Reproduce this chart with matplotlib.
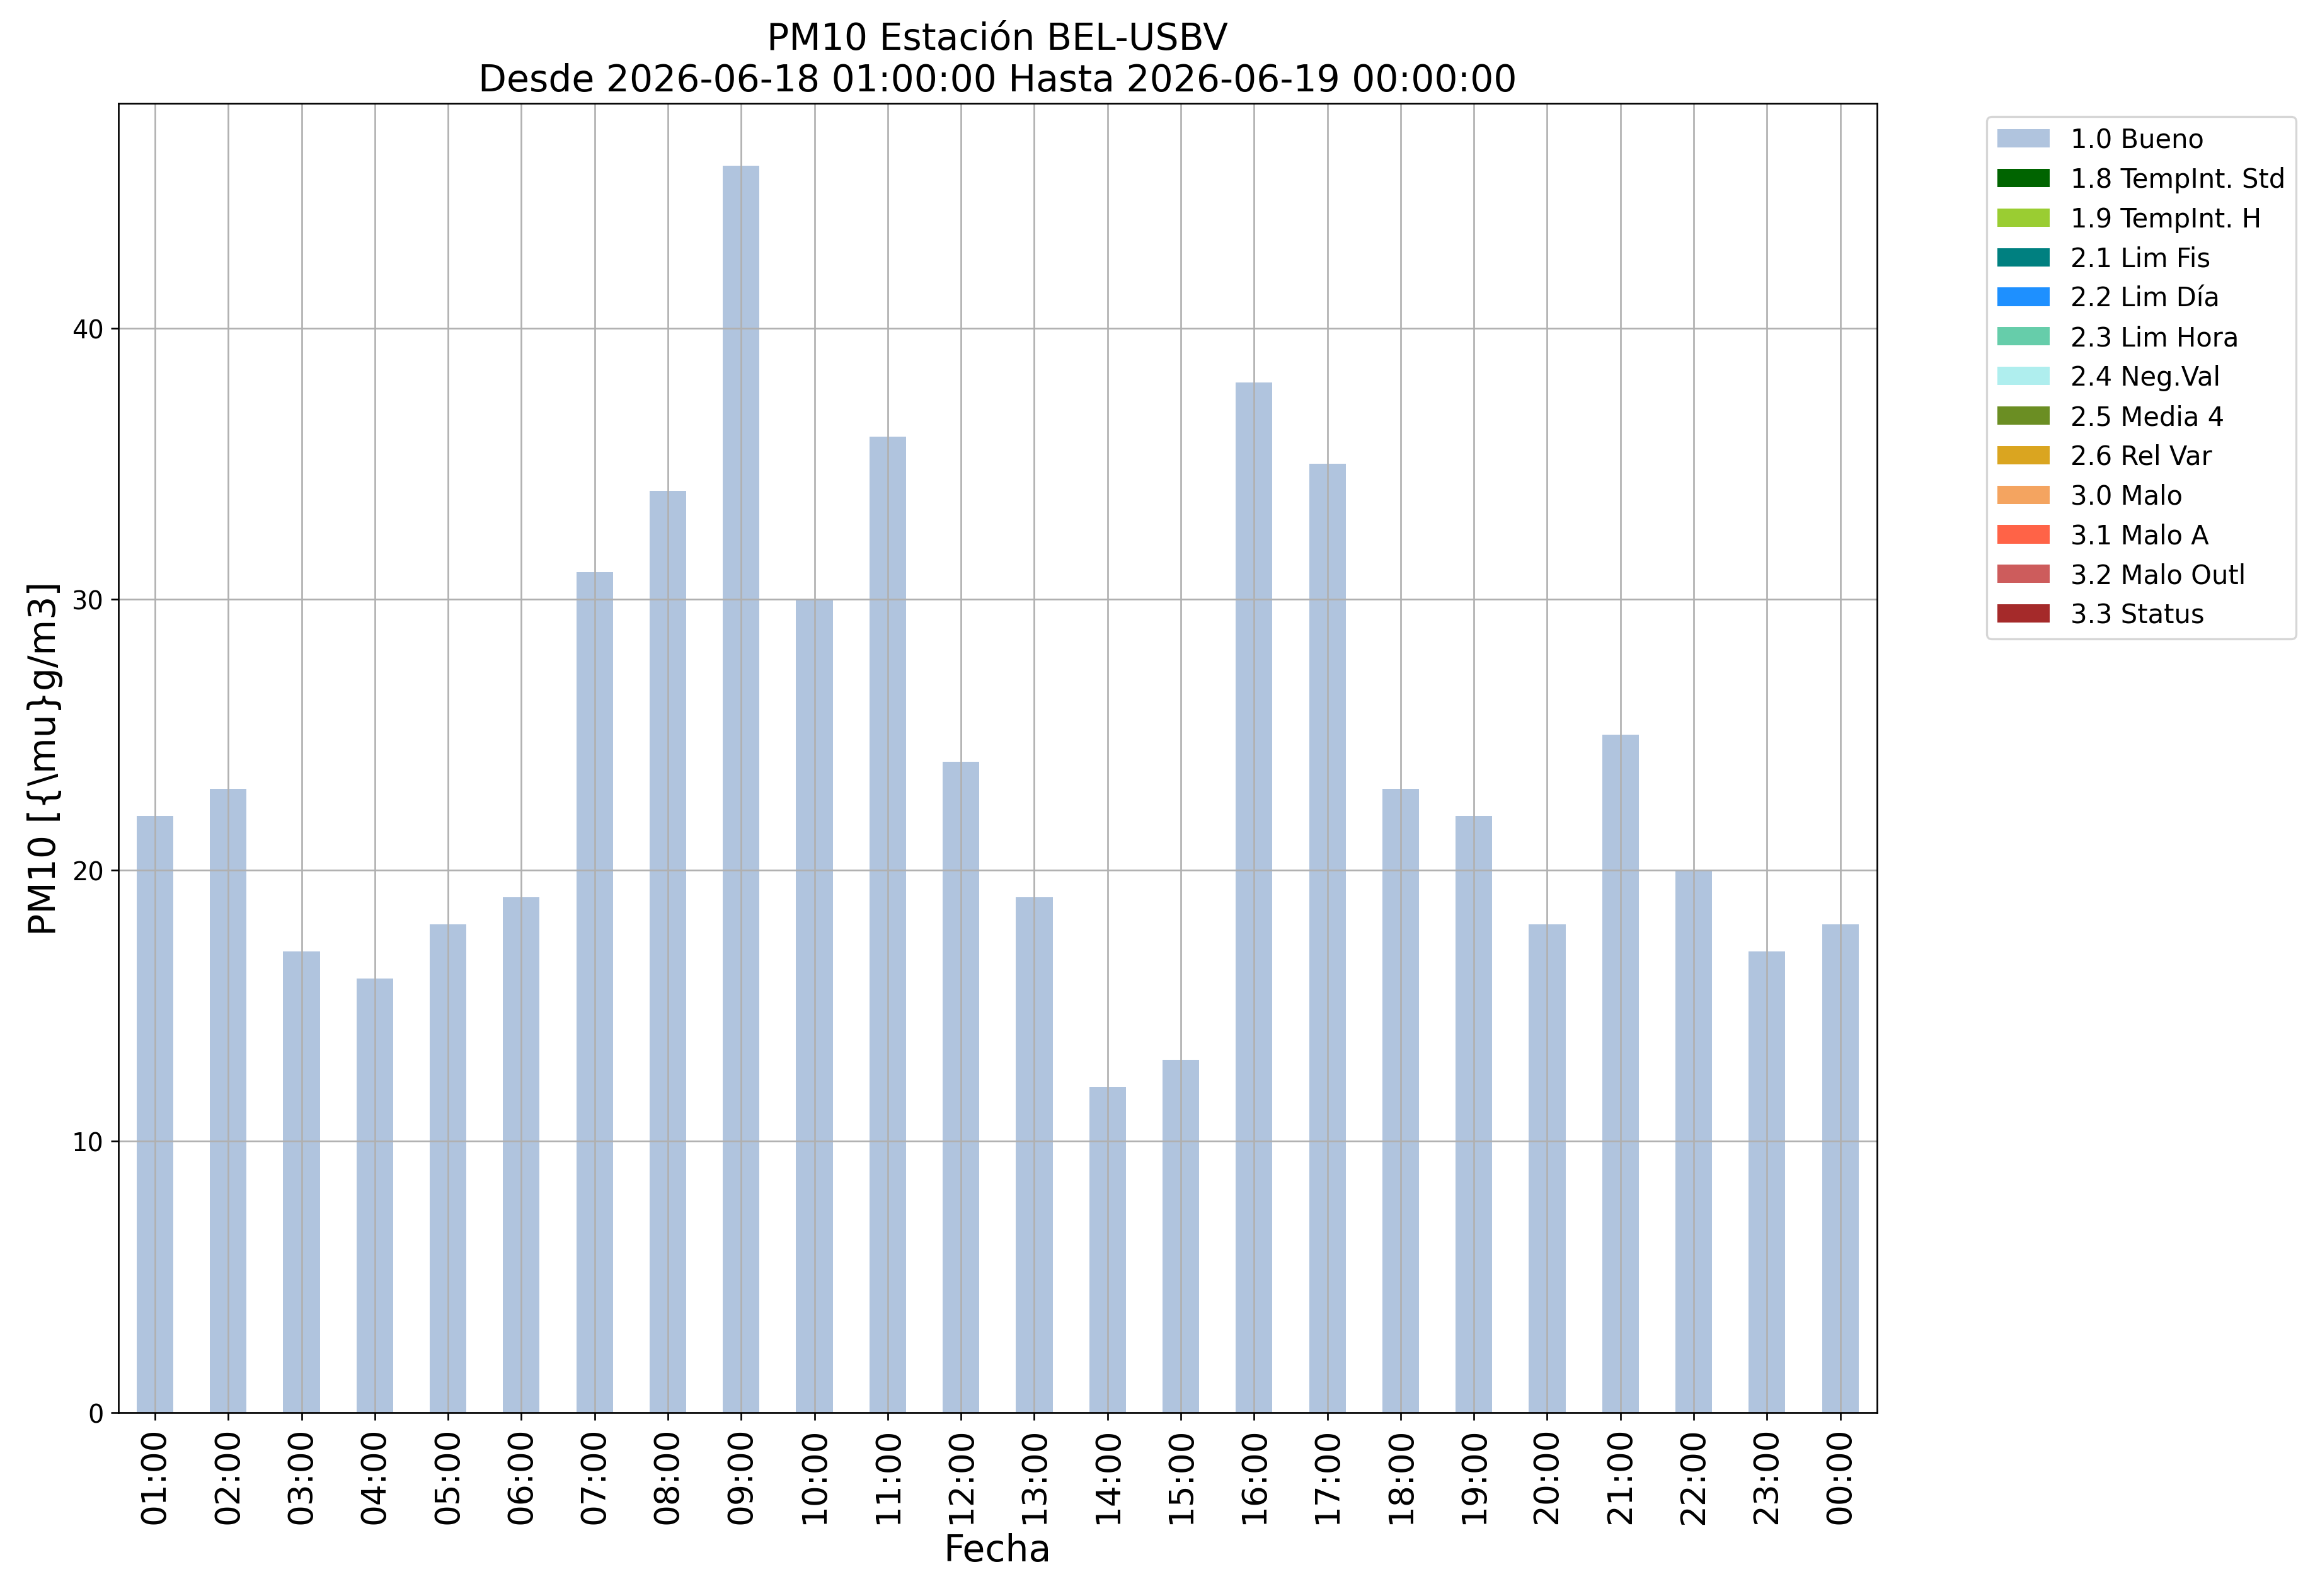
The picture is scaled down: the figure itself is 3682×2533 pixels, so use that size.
import matplotlib
matplotlib.use("Agg")
import matplotlib.pyplot as plt
import numpy as np

horas = ["01:00", "02:00", "03:00", "04:00", "05:00", "06:00", "07:00", "08:00",
         "09:00", "10:00", "11:00", "12:00", "13:00", "14:00", "15:00", "16:00",
         "17:00", "18:00", "19:00", "20:00", "21:00", "22:00", "23:00", "00:00"]
bueno = [22, 23, 17, 16, 18, 19, 31, 34, 46, 30, 36, 24, 19, 12, 13, 38,
         35, 23, 22, 18, 25, 20, 17, 18]

flags = ["1.0 Bueno", "1.8 TempInt. Std", "1.9 TempInt. H", "2.1 Lim Fis",
         "2.2 Lim Día", "2.3 Lim Hora", "2.4 Neg.Val", "2.5 Media 4",
         "2.6 Rel Var", "3.0 Malo", "3.1 Malo A", "3.2 Malo Outl", "3.3 Status"]
colores = ["lightsteelblue", "darkgreen", "yellowgreen", "teal", "dodgerblue",
           "mediumaquamarine", "paleturquoise", "olivedrab", "goldenrod",
           "sandybrown", "tomato", "indianred", "brown"]

# solo la bandera 1.0 tiene datos, el resto va en cero
valores = [bueno] + [[0] * len(horas) for _ in flags[1:]]

fig, ax = plt.subplots(figsize=(15.342, 10.558), dpi=240)
fig.subplots_adjust(left=0.051, right=0.809, top=0.935, bottom=0.115)

x = np.arange(len(horas))
base = np.zeros(len(horas))
for nombre, col, vals in zip(flags, colores, valores):
    ax.bar(x, vals, width=0.5, bottom=base, color=col, label=nombre)
    base = base + np.array(vals)

ax.set_xlim(-0.5, len(horas) - 0.5)
ax.set_ylim(0, max(bueno) * 1.05)
ax.set_xticks(x)
ax.set_xticklabels(horas, rotation=90, fontsize=16)
ax.tick_params(axis="y", labelsize=12)
ax.grid(True, color="#b0b0b0")

ax.set_title("PM10 Estación BEL-USBV\nDesde 2026-06-18 01:00:00 Hasta 2026-06-19 00:00:00",
             fontsize=17.5)
ax.set_xlabel("Fecha", fontsize=17.5)
ax.set_ylabel(r"PM10 [{\mu}g/m3]", fontsize=17.5)
ax.legend(bbox_to_anchor=(1.055, 1.0), loc="upper left", fontsize=12.5)

fig.savefig("out.png")
